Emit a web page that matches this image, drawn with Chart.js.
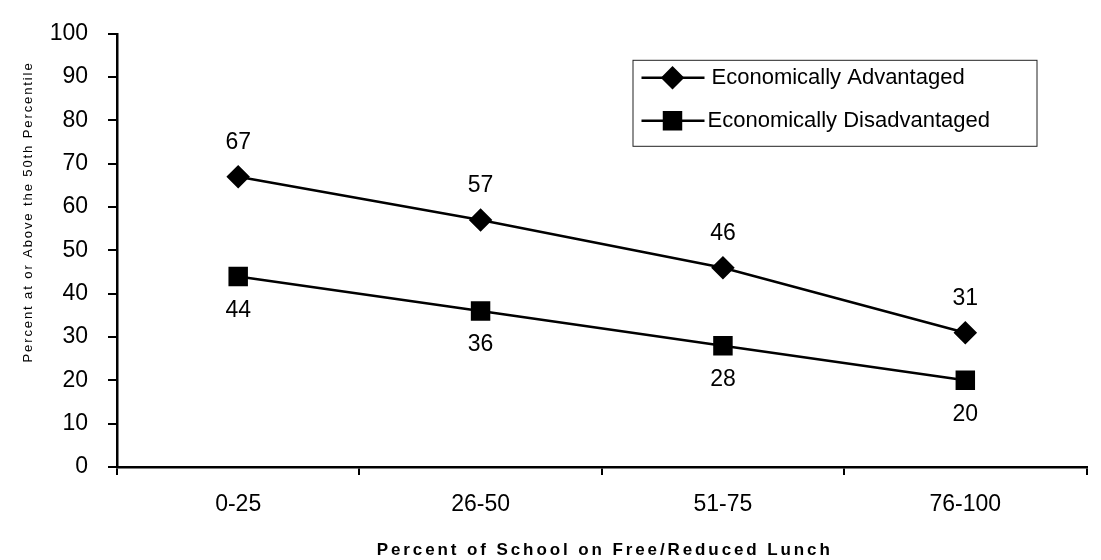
<!DOCTYPE html>
<html>
<head>
<meta charset="utf-8">
<script src="https://cdn.jsdelivr.net/npm/chart.js@4"></script>
<style>
  html, body { margin: 0; padding: 0; background: #fff; }
  #wrap { width: 1101px; height: 560px; }
</style>
</head>
<body>
<div id="wrap"><canvas id="chart" width="1101" height="560"></canvas></div>
<script>
const categories = ['0-25', '26-50', '51-75', '76-100'];
const advantaged = [67, 57, 46, 31];
const disadvantaged = [44, 36, 28, 20];
const seriesNames = ['Economically Advantaged', 'Economically Disadvantaged'];
const yTitle = 'Percent at or Above the 50th Percentile';
const xTitle = 'Percent of School on Free/Reduced Lunch';

const FONT = 'Liberation Sans, Arial, sans-serif';

// value labels: above for the first series, below for the second
const valueLabels = {
  id: 'valueLabels',
  afterDatasetsDraw(chart) {
    const ctx = chart.ctx;
    ctx.save();
    ctx.font = `23px ${FONT}`;
    ctx.fillStyle = '#000';
    ctx.textAlign = 'center';
    ctx.textBaseline = 'middle';
    chart.data.datasets.forEach((ds, i) => {
      const meta = chart.getDatasetMeta(i);
      meta.data.forEach((pt, j) => {
        const dy = i === 0 ? -34 : 34;
        ctx.fillText(String(ds.data[j]), pt.x, pt.y + dy);
      });
    });
    ctx.restore();
  },
};

// axis titles drawn by hand so they can be letter-spaced like the original
const axisTitles = {
  id: 'axisTitles',
  afterDraw(chart) {
    const ctx = chart.ctx;
    const area = chart.chartArea;
    ctx.save();
    ctx.fillStyle = '#000';
    ctx.textAlign = 'center';
    ctx.textBaseline = 'middle';
    ctx.font = `bold 17px ${FONT}`;
    ctx.letterSpacing = '2.9px';
    ctx.fillText(xTitle, (area.left + area.right) / 2 + 3, 550);
    ctx.translate(28, 212);
    ctx.rotate(-Math.PI / 2);
    ctx.font = `13px ${FONT}`;
    ctx.letterSpacing = '1.9px';
    ctx.fillText(yTitle, 0, 0);
    ctx.restore();
  },
};

// boxed legend inside the plot, top right
const boxLegend = {
  id: 'boxLegend',
  afterDraw(chart) {
    const ctx = chart.ctx;
    const area = chart.chartArea;
    const x0 = area.right - 454;
    const y0 = area.top + 26;
    const w = 404;
    const h = 86;
    ctx.save();
    ctx.strokeStyle = '#222';
    ctx.lineWidth = 1;
    ctx.strokeRect(x0 + 0.5, y0 + 0.5, w, h);
    ctx.font = `22px ${FONT}`;
    ctx.fillStyle = '#000';
    ctx.textBaseline = 'middle';
    chart.data.datasets.forEach((ds, i) => {
      const cy = y0 + 18 + i * 43;
      ctx.strokeStyle = '#000';
      ctx.lineWidth = 2.5;
      ctx.beginPath();
      ctx.moveTo(x0 + 9, cy);
      ctx.lineTo(x0 + 72, cy);
      ctx.stroke();
      Chart.helpers.drawPoint(ctx, {
        pointStyle: ds.pointStyle,
        radius: ds.pointRadius,
        borderWidth: 1,
      }, x0 + 40, cy);
      ctx.fill();
      ctx.fillText(ds.label, x0 + (i === 0 ? 79 : 75), cy);
    });
    ctx.restore();
  },
};

new Chart(document.getElementById('chart'), {
  type: 'line',
  data: {
    labels: categories,
    datasets: [
      {
        label: seriesNames[0],
        data: advantaged,
        borderColor: '#000',
        backgroundColor: '#000',
        borderWidth: 2.5,
        pointStyle: 'rectRot',
        pointRadius: 10,
        pointBackgroundColor: '#000',
        pointBorderColor: '#000',
      },
      {
        label: seriesNames[1],
        data: disadvantaged,
        borderColor: '#000',
        backgroundColor: '#000',
        borderWidth: 2.5,
        pointStyle: 'rect',
        pointRadius: 12,
        pointBackgroundColor: '#000',
        pointBorderColor: '#000',
      },
    ],
  },
  plugins: [valueLabels, axisTitles, boxLegend],
  options: {
    responsive: false,
    animation: false,
    layout: { padding: { top: 24, right: 4, left: 0, bottom: 0 } },
    plugins: {
      legend: { display: false },
      tooltip: { enabled: false },
    },
    scales: {
      x: {
        offset: true,
        grid: {
          offset: true,
          drawOnChartArea: false,
          tickLength: 8,
          color: '#000',
          lineWidth: 2,
        },
        border: { color: '#000', width: 2.5 },
        ticks: {
          color: '#000',
          font: { family: FONT, size: 23 },
          padding: 16,
          maxRotation: 0,
        },
        afterFit(scale) { scale.height = 93; },
      },
      y: {
        min: 0,
        max: 100,
        ticks: {
          stepSize: 10,
          color: '#000',
          font: { family: FONT, size: 23 },
          padding: 20,
        },
        grid: {
          drawOnChartArea: false,
          tickLength: 9,
          color: '#000',
          lineWidth: 2,
        },
        border: { color: '#000', width: 2.5 },
        afterFit(scale) { scale.width = 117; },
      },
    },
  },
});
</script>
</body>
</html>
